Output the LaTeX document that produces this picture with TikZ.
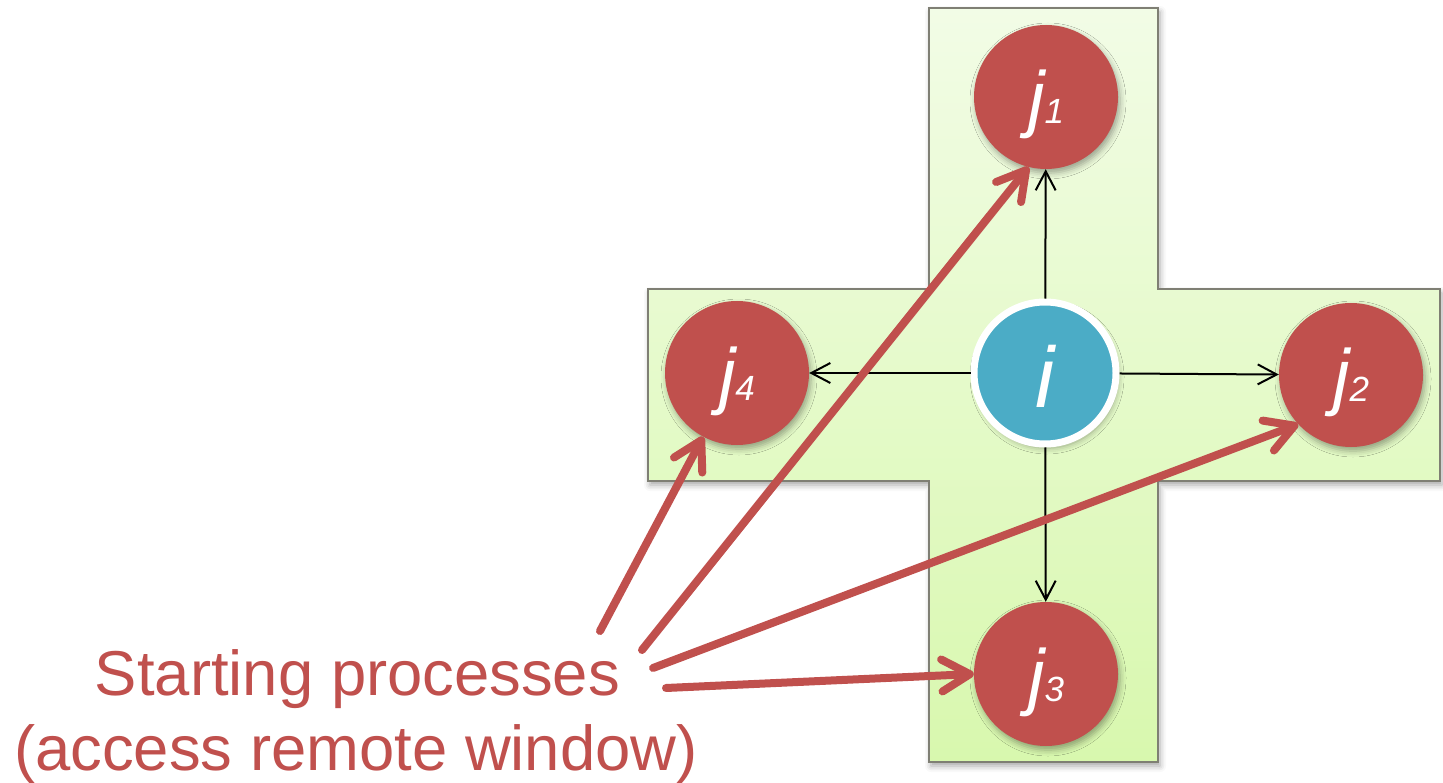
\documentclass[tikz,border=0pt]{standalone}
\usepackage{fontspec}
\setmainfont{Liberation Sans}
\usetikzlibrary{arrows.meta,shadows.blur}
\definecolor{jred}{HTML}{C0504D}
\definecolor{iblue}{HTML}{4BACC6}
\definecolor{gtop}{HTML}{F2FCE6}
\definecolor{gbot}{HTML}{D8F8AE}
\definecolor{crossline}{HTML}{7F7F74}
\begin{document}
\begin{tikzpicture}[x=1pt,y=-1pt,
  softshadow/.style={blur shadow={shadow xshift=2pt, shadow yshift=-4pt, shadow blur radius=6pt, shadow opacity=35}},
  jnode/.style={circle, fill=jred, minimum size=144pt, inner sep=0pt, text=white,
    font=\fontsize{74}{74}\selectfont\itshape, text height=54pt, text depth=0pt, softshadow},
  inode/.style={circle, fill=iblue, draw=white, line width=7pt, minimum size=142pt, inner sep=0pt,
    text=white, font=\fontsize{86}{86}\selectfont\itshape, text height=68pt, text depth=0pt, softshadow},
  crossbox/.style={draw=crossline, line width=2pt, top color=gtop, bottom color=gbot, softshadow},
  blk/.style={-{Straight Barb[length=19pt,width=20pt]}, line width=2pt, black},
  redarr/.style={jred, line width=8pt, line cap=round, -{Straight Barb[length=28pt,width=32pt,round]}},
  txt/.style={text=jred, font=\fontsize{63.4}{76}\selectfont, inner sep=0pt}
]
\useasboundingbox (0,0) rectangle (1443,783);
% cross-shaped window
\path[crossbox] (929,8) -- (1158,8) -- (1158,289) -- (1440,289) -- (1440,481) -- (1158,481)
  -- (1158,762) -- (929,762) -- (929,481) -- (648,481) -- (648,289) -- (929,289) -- cycle;
% process nodes
\node[inode] (i) at (1045,373) {i};
\node[jnode] (j1) at (1046,97) {j{\fontsize{35}{35}\selectfont 1}};
\node[jnode] (j2) at (1351,375) {j{\fontsize{35}{35}\selectfont 2}};
\node[jnode] (j3) at (1046,674) {j{\fontsize{35}{35}\selectfont 3}};
\node[jnode] (j4) at (737,373) {j{\fontsize{35}{35}\selectfont 4}};
% neighbour arrows
\draw[blk] (i) -- (j1);
\draw[blk] (i) -- (j2);
\draw[blk] (i) -- (j3);
\draw[blk] (i) -- (j4);
% labels
\node[txt, anchor=base] (t1) at (357.5,695) {Starting processes};
\node[txt, anchor=base] (t2) at (356,770) {(access remote window)};
% red arrows
\coordinate (s4) at (600,631);
\coordinate (s1) at (642,650);
\coordinate (s2) at (653,668);
\coordinate (s3) at (666,688);
\draw[redarr] (s4) -- (j4);
\draw[redarr] (s1) -- (j1.256);
\draw[redarr] (s2) -- (j2.223);
\draw[redarr] (s3) -- (j3.180);
\end{tikzpicture}
\end{document}
